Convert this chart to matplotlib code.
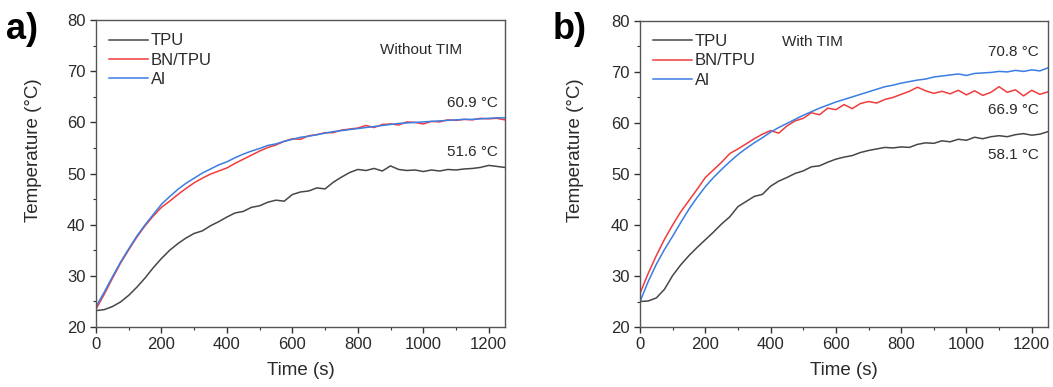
import numpy as np
import matplotlib
matplotlib.use("Agg")
import matplotlib.pyplot as plt

plt.rcParams['font.family'] = ['Liberation Sans', 'DejaVu Sans']

# Time axis (s), shared by all curves
time_s = list(range(0, 1251, 25))

# Panel a) - without TIM
tpu_a = [23.2, 23.4, 24.0, 24.9, 26.2, 27.8, 29.6, 31.6, 33.4, 35.0, 36.3, 37.4, 38.3,
         38.8, 39.8, 40.6, 41.5, 42.3, 42.6, 43.4, 43.7, 44.4, 44.8, 44.6, 45.9, 46.4,
         46.6, 47.2, 47.0, 48.3, 49.3, 50.2, 50.8, 50.6, 51.0, 50.5, 51.5, 50.8, 50.6,
         50.7, 50.4, 50.7, 50.5, 50.8, 50.7, 50.9, 51.0, 51.2, 51.6, 51.4, 51.2]
bn_a = [23.5, 26.4, 29.5, 32.5, 35.1, 37.6, 39.8, 41.7, 43.4, 44.6, 45.9, 47.1, 48.2,
        49.1, 49.9, 50.5, 51.1, 52.0, 52.8, 53.6, 54.4, 55.1, 55.6, 56.3, 56.8, 56.7,
        57.4, 57.6, 58.0, 58.0, 58.5, 58.7, 58.9, 59.4, 59.0, 59.6, 59.7, 59.5, 60.1,
        60.0, 59.7, 60.2, 60.1, 60.5, 60.4, 60.6, 60.5, 60.8, 60.7, 60.8, 60.5]
al_a = [24.0, 26.8, 29.8, 32.7, 35.3, 37.8, 40.0, 42.0, 44.0, 45.5, 46.9, 48.1, 49.1,
        50.1, 50.9, 51.7, 52.3, 53.1, 53.8, 54.4, 54.9, 55.5, 55.8, 56.3, 56.7, 57.1,
        57.3, 57.6, 57.9, 58.2, 58.4, 58.6, 58.8, 59.0, 59.2, 59.4, 59.6, 59.8, 59.9,
        60.0, 60.1, 60.2, 60.3, 60.4, 60.5, 60.6, 60.6, 60.7, 60.8, 60.9, 60.9]

# Panel b) - with TIM
tpu_b = [25.0, 25.1, 25.7, 27.4, 30.1, 32.2, 34.0, 35.6, 37.1, 38.6, 40.2, 41.6, 43.6,
         44.6, 45.6, 46.0, 47.6, 48.6, 49.3, 50.1, 50.6, 51.4, 51.6, 52.3, 52.9, 53.3,
         53.6, 54.2, 54.6, 54.9, 55.2, 55.1, 55.3, 55.2, 55.8, 56.1, 56.0, 56.5, 56.3,
         56.8, 56.6, 57.2, 56.9, 57.3, 57.5, 57.3, 57.7, 57.9, 57.6, 57.8, 58.3]
bn_b = [26.6, 30.5, 34.0, 37.2, 40.0, 42.6, 44.8, 47.0, 49.3, 50.8, 52.3, 54.0, 54.9,
        55.9, 56.9, 57.8, 58.5, 58.0, 59.4, 60.4, 60.9, 62.0, 61.6, 62.9, 62.6, 63.6,
        62.8, 63.8, 64.2, 63.9, 64.6, 65.0, 65.6, 66.2, 67.0, 66.3, 65.8, 66.2, 65.7,
        66.4, 65.5, 66.3, 65.4, 66.0, 67.1, 66.0, 66.5, 65.3, 66.4, 65.6, 66.1]
al_b = [25.0, 28.9, 32.3, 35.2, 37.8, 40.5, 43.1, 45.4, 47.5, 49.3, 50.9, 52.4, 53.8,
        55.0, 56.1, 57.1, 58.2, 59.1, 59.9, 60.7, 61.5, 62.2, 62.9, 63.5, 64.1, 64.6,
        65.1, 65.6, 66.1, 66.6, 67.1, 67.4, 67.8, 68.1, 68.4, 68.6, 69.0, 69.2, 69.4,
        69.6, 69.3, 69.7, 69.8, 69.9, 70.1, 70.0, 70.3, 70.1, 70.4, 70.2, 70.8]

series_labels = ["TPU", "BN/TPU", "Al"]
series_colors = ["#474747", "#f03c3c", "#3a7de4"]

TEXT = "#2a2a2a"


def style_axis(ax):
    ax.set_xlim(0, 1250)
    ax.set_ylim(20, 80)
    ax.set_xticks(range(0, 1201, 200))
    ax.set_xticks(range(0, 1251, 100), minor=True)
    ax.set_yticks(range(20, 81, 10))
    ax.set_yticks(range(20, 81, 5), minor=True)
    ax.tick_params(which="major", direction="out", length=4, width=1,
                   labelsize=12, colors="#333333", labelcolor=TEXT)
    ax.tick_params(which="minor", direction="out", length=2.5, width=0.8, colors="#333333")
    for sp in ax.spines.values():
        sp.set_color("#555555")
        sp.set_linewidth(1.0)
    ax.set_xlabel("Time (s)", fontsize=13.5, color=TEXT)
    ax.set_ylabel("Temperature (°C)", fontsize=13.5, color=TEXT)
    ax.xaxis.set_label_coords(0.5, -0.114)


def draw_panel(ax, curves):
    for ys, lab, col in zip(curves, series_labels, series_colors):
        ax.plot(time_s, ys, color=col, lw=1.1, label=lab)
    ax.legend(loc="upper left", frameon=False, fontsize=12, handlelength=2.3,
              handletextpad=0.2, labelspacing=0.25, borderaxespad=0.4,
              labelcolor=TEXT)
    style_axis(ax)


fig = plt.figure(figsize=(10.53, 3.87), dpi=100)
ax_a = fig.add_axes([0.0912, 0.155, 0.3884, 0.793])
ax_b = fig.add_axes([0.6078, 0.155, 0.3875, 0.791])

draw_panel(ax_a, [tpu_a, bn_a, al_a])
draw_panel(ax_b, [tpu_b, bn_b, al_b])
ax_a.yaxis.set_label_coords(-0.132, 0.577)
ax_b.yaxis.set_label_coords(-0.137, 0.577)

# Annotations
ax_a.text(994, 74.2, "Without TIM", fontsize=11, color=TEXT, ha="center", va="center")
ax_a.text(1228, 63.8, "60.9 °C", fontsize=11, color=TEXT, ha="right", va="center")
ax_a.text(1228, 54.2, "51.6 °C", fontsize=11, color=TEXT, ha="right", va="center")

ax_b.text(527, 75.8, "With TIM", fontsize=11, color=TEXT, ha="center", va="center")
ax_b.text(1222, 74.0, "70.8 °C", fontsize=11, color=TEXT, ha="right", va="center")
ax_b.text(1222, 62.5, "66.9 °C", fontsize=11, color=TEXT, ha="right", va="center")
ax_b.text(1222, 53.7, "58.1 °C", fontsize=11, color=TEXT, ha="right", va="center")

fig.text(0.006, 0.925, "a)", fontsize=26, fontweight="bold", color="black", va="center")
fig.text(0.525, 0.925, "b)", fontsize=26, fontweight="bold", color="black", va="center")

fig.savefig("out.png", dpi=100)
